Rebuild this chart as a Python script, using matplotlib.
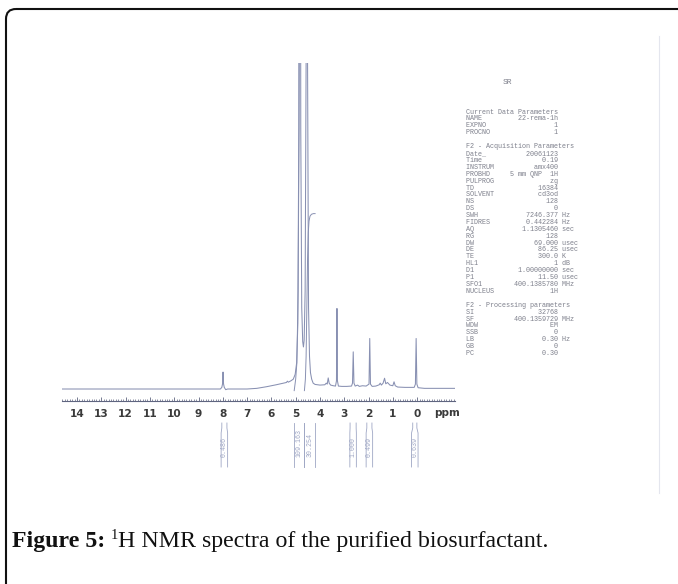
import matplotlib
matplotlib.use("Agg")
import numpy as np
import matplotlib.pyplot as plt
import matplotlib.transforms as mtransforms
from matplotlib.patches import FancyBboxPatch
from matplotlib.ticker import MultipleLocator, FixedLocator

W, H, DPI = 678, 584, 100

# ---------------- data ----------------
trace_ppm = [14.62, 8.10, 8.04, 8.01, 7.99, 7.97, 7.94, 7.88, 7.80,
             7.00, 6.60, 6.20, 5.80, 5.50, 5.38, 5.34, 5.30, 5.20, 5.10,
             5.02, 4.96, 4.91, 4.87, 4.83, 4.79, 4.75, 4.71, 4.68, 4.65,
             4.61, 4.57, 4.54, 4.51, 4.47, 4.43, 4.39, 4.34, 4.28, 4.20,
             4.00, 3.80, 3.74, 3.70, 3.66, 3.62, 3.56, 3.45, 3.36, 3.32,
             3.30, 3.28, 3.24, 3.10, 2.90, 2.70, 2.66, 2.63, 2.60, 2.55,
             2.45, 2.38, 2.25, 2.10, 1.98, 1.95, 1.92, 1.85, 1.70, 1.56,
             1.52, 1.47, 1.40, 1.34, 1.29, 1.22, 1.12, 1.00, 0.95, 0.90,
             0.80, 0.50, 0.12, 0.07, 0.04, 0.01, -0.04, -0.30, -1.56]
trace_int = [0.0, 0.0, 0.5, 1.6, 5.2, 1.6, 0.5, -0.2, 0.0,
             0.0, 0.2, 0.7, 1.3, 1.8, 2.0, 2.4, 2.1, 2.5, 3.0,
             4.5, 8.0, 20.0, 80.0, 400.0, 80.0, 25.0, 14.5, 12.9, 15.0,
             30.0, 100.0, 400.0, 100.0, 25.0, 10.0, 5.0, 3.0, 1.8, 1.4,
             1.2, 1.3, 1.8, 1.5, 3.4, 1.8, 1.2, 1.0, 0.9, 2.5,
             24.7, 2.5, 0.9, 0.8, 0.8, 0.9, 1.8, 11.4, 1.8, 0.9,
             1.2, 0.8, 1.0, 0.9, 1.5, 15.5, 1.5, 0.8, 0.9, 1.3,
             1.8, 1.2, 1.8, 3.3, 1.6, 2.0, 1.2, 1.0, 2.2, 1.0,
             0.6, 0.5, 0.5, 1.5, 15.5, 1.5, 0.4, 0.2, 0.2]

integral1_ppm = [5.06, 5.00, 4.95, 4.90, 4.86, 4.83, 4.80]
integral1_val = [-0.5, 3.0, 8.0, 30.0, 80.0, 150.0, 192.0]
integral2_ppm = [4.64, 4.60, 4.57, 4.54, 4.51, 4.48, 4.45, 4.41, 4.35, 4.27, 4.20]
integral2_val = [-0.5, 3.0, 10.0, 25.0, 40.0, 48.0, 51.5, 53.0, 53.6, 53.8, 53.8]

tick_values = list(range(0, 15))
tick_labels = [str(v) for v in tick_values]

integral_labels = ["0.486", "109.163", "30.254", "1.000", "0.499", "0.639"]
integral_left = [8.04, 5.06, 4.64, 2.76, 2.07, 0.18]
integral_right = [7.83, 4.64, 4.20, 2.51, 1.86, 0.01]

header1 = "Current Data Parameters"
names1 = ["NAME", "EXPNO", "PROCNO"]
values1 = ["22-rema-1h", "1", "1"]
units1 = ["", "", ""]

header2 = "F2 - Acquisition Parameters"
names2 = ["Date_", "Time", "INSTRUM", "PROBHD", "PULPROG", "TD", "SOLVENT",
          "NS", "DS", "SWH", "FIDRES", "AQ", "RG", "DW", "DE", "TE", "HL1",
          "D1", "P1", "SFO1", "NUCLEUS"]
values2 = ["20061123", "0.19", "amx400", "5 mm QNP  1H", "zg", "16384", "cd3od",
           "128", "0", "7246.377", "0.442284", "1.1305460", "128", "69.000",
           "86.25", "300.0", "1", "1.00000000", "11.50", "400.1385780", "1H"]
units2 = ["", "", "", "", "", "", "", "", "", "Hz", "Hz", "sec", "", "usec",
          "usec", "K", "dB", "sec", "usec", "MHz", ""]

header3 = "F2 - Processing parameters"
names3 = ["SI", "SF", "WDW", "SSB", "LB", "GB", "PC"]
values3 = ["32768", "400.1359729", "EM", "0", "0.30", "0", "0.30"]
units3 = ["", "MHz", "", "", "Hz", "", ""]

# ---------------- styles ----------------
spec_color = "#8890b2"
ruler_color = "#5f6580"
label_color = "#3a3a3a"
integ_color = "#9ea6c4"
param_color = "#7e808c"

fig = plt.figure(figsize=(W / DPI, H / DPI), dpi=DPI)
fig.patch.set_facecolor("white")

# pixel-coordinate overlay for decoration and text
bg = fig.add_axes([0, 0, 1, 1], zorder=0)
bg.set_xlim(0, W)
bg.set_ylim(H, 0)
bg.axis("off")
bg.patch.set_alpha(0)

# spectrum axes
x0, x1, ytop, ybot = 62, 455, 63, 401
ax = fig.add_axes([x0 / W, 1 - ybot / H, (x1 - x0) / W, (ybot - ytop) / H], zorder=2)
ax.patch.set_alpha(0)
ax.set_xlim(14.62, -1.56)
ax.set_ylim(-3.68, 100)
for s in ["top", "left", "right"]:
    ax.spines[s].set_visible(False)
ax.spines["bottom"].set_color(ruler_color)
ax.spines["bottom"].set_linewidth(0.8)
ax.set_yticks([])
ax.xaxis.set_major_locator(FixedLocator(tick_values))
ax.xaxis.set_minor_locator(MultipleLocator(0.1))
ax.set_xticklabels(tick_labels, fontsize=7.6, fontweight="bold",
                   family="DejaVu Sans", color=label_color)
ax.tick_params(axis="x", which="major", direction="in", length=3.2, width=0.6,
               color=ruler_color, pad=5.5)
ax.tick_params(axis="x", which="minor", direction="in", length=1.8, width=0.5,
               color=ruler_color)

ax.plot(trace_ppm, trace_int, color=spec_color, lw=0.75, clip_on=True,
        solid_joinstyle="round")
ax.plot(integral1_ppm, integral1_val, color=spec_color, lw=0.7, clip_on=True)
ax.plot(integral2_ppm, integral2_val, color=spec_color, lw=0.7, clip_on=True)

blend = mtransforms.blended_transform_factory(ax.transData, bg.transData)
ax.text(-1.22, 413, "ppm", transform=blend, ha="center", va="center",
        fontsize=7.6, fontweight="bold", family="DejaVu Sans", color=label_color)

# integral markers under the axis
ppm_per_px = (14.62 + 1.56) / (x1 - x0)
min_w = 6.5 * ppm_per_px
for lab, lft, rgt in zip(integral_labels, integral_left, integral_right):
    c = 0.5 * (lft + rgt)
    half = max((lft - rgt) / 2, min_w / 2)
    for side, xp in ((1, lft), (-1, rgt)):
        xb = c + side * half
        ax.plot([xp, xp, xb, xb], [423, 428, 433, 467], transform=blend,
                color=integ_color, lw=0.6, clip_on=False)
    ax.text(c, 457, lab, transform=blend, rotation=90, ha="center", va="bottom",
            fontsize=4.8, family="Liberation Mono", color=integ_color, clip_on=False)

# parameter block
bg.text(507, 83, "SR", ha="center", va="center", fontsize=5.8,
        family="Liberation Mono", color=param_color)


def fmt(n, v, u):
    s = f"{n:<8}{v:>15}"
    return s + (" " + u if u else "")


px0 = 466
lines = [(112.0, header1)]
for i, (n, v, u) in enumerate(zip(names1, values1, units1)):
    lines.append((112.0 + (i + 1) * 6.885, fmt(n, v, u)))
lines.append((146.7, header2))
for i, (n, v, u) in enumerate(zip(names2, values2, units2)):
    lines.append((146.7 + (i + 1) * 6.885, fmt(n, v, u)))
lines.append((305.3, header3))
for i, (n, v, u) in enumerate(zip(names3, values3, units3)):
    lines.append((305.3 + (i + 1) * 6.885, fmt(n, v, u)))
for yy, s in lines:
    bg.text(px0, yy, s, ha="left", va="center", fontsize=4.85,
            family="Liberation Mono", color=param_color)

# faint scan edge
bg.plot([659, 659], [36, 493], color="#e4e6ee", lw=0.8)

# rounded frame
frame = FancyBboxPatch((6, 9), 720, 640, boxstyle="round,pad=0,rounding_size=10",
                       fill=False, ec="#111111", lw=1.5)
bg.add_patch(frame)

# caption
renderer = fig.canvas.get_renderer()
cap_y = 547
fs = 17.2
t1 = bg.text(12, cap_y, "Figure 5:", fontsize=fs, fontweight="bold",
             family="Liberation Serif", va="baseline", ha="left", color="#111111")
bb = t1.get_window_extent(renderer)
xpos = bg.transData.inverted().transform((bb.x1, 0))[0] + 5
t2 = bg.text(xpos, cap_y - 8, "1", fontsize=fs * 0.6, family="Liberation Serif",
             va="baseline", ha="left", color="#111111")
bb = t2.get_window_extent(renderer)
xpos = bg.transData.inverted().transform((bb.x1, 0))[0] + 0.5
bg.text(xpos, cap_y, "H NMR spectra of the purified biosurfactant.", fontsize=fs,
        family="Liberation Serif", va="baseline", ha="left", color="#111111")

fig.savefig("out.png", dpi=DPI, facecolor="white")
